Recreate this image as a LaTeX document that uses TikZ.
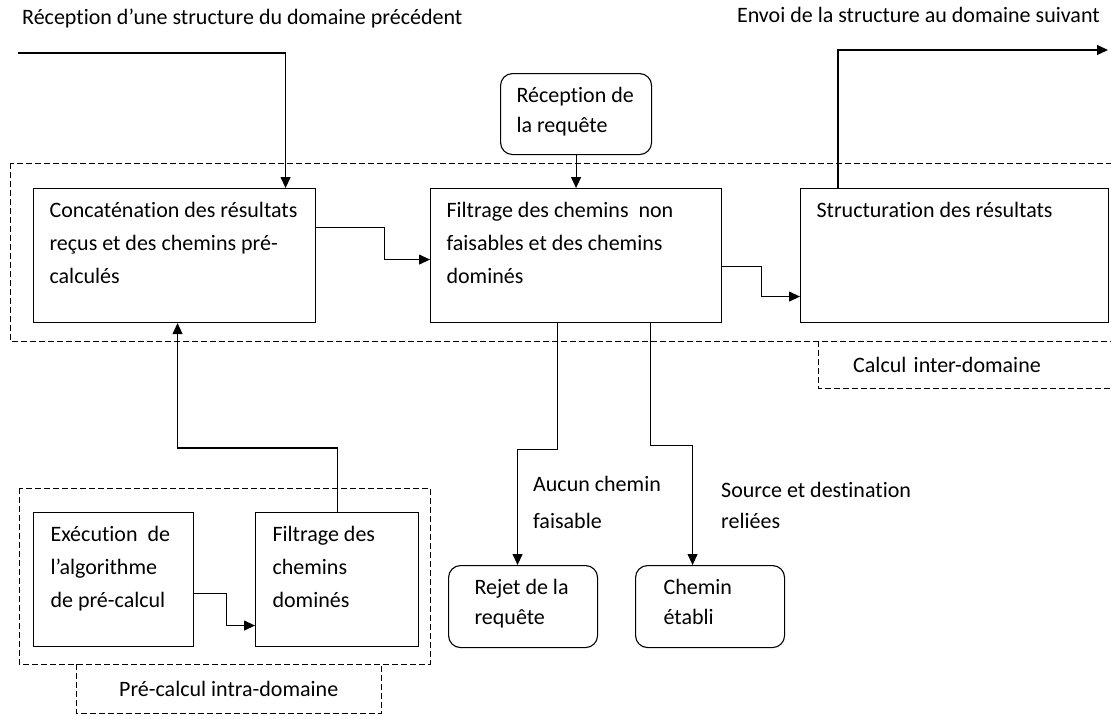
\documentclass[tikz,border=0pt]{standalone}
\usepackage{fontspec}
\setmainfont{Carlito}[Ligatures=NoCommon]
\usetikzlibrary{arrows.meta}
\newcommand{\boxtext}[4][16pt]{\parbox[c][#3][t]{#2}{\raggedright\leftskip=#1\rule{0pt}{29pt}#4}}
\begin{document}
\begin{tikzpicture}[x=1pt,y=-1pt]
\useasboundingbox (0,0) rectangle (1111,715);
\clip (0,0) rectangle (1111,715);

      \begin{scope}[every node/.style={draw,line width=1.1pt,inner sep=0pt,anchor=north west,font=\fontsize{22}{33}\selectfont}]
        \node (concat)   at (33,188)  {\boxtext{282pt}{134pt}{Concaténation des résultats\\reçus et des chemins pré-\\calculés}};
        \node (filtrage) at (430,188) {\boxtext{291pt}{134pt}{Filtrage des chemins\ \ non\\faisables et des chemins\\dominés}};
        \node (struct)   at (800,188) {\boxtext{308pt}{134pt}{Structuration des résultats}};
        \node (exec)     at (33,512)  {\boxtext[17pt]{160pt}{134pt}{Exécution\ \ de\\l’algorithme\\de pré-calcul}};
        \node (filtdom)  at (255,512) {\boxtext[17pt]{163pt}{134pt}{Filtrage des\\chemins\\dominés}};
      \end{scope}

      \begin{scope}[every node/.style={draw,line width=1.1pt,rounded corners=12pt,inner sep=0pt,anchor=north west,font=\fontsize{22}{30}\selectfont}]
        \node (recep)  at (500,73)  {\boxtext{151pt}{81pt}{Réception de\\la requête}};
        \node (rejet)  at (448,565) {\boxtext[26pt]{149pt}{82pt}{Rejet de la\\requête}};
        \node (etabli) at (635,565) {\boxtext[28pt]{149pt}{82pt}{Chemin\\établi}};
      \end{scope}

      \begin{scope}[every node/.style={inner sep=0pt,font=\fontsize{22}{33}\selectfont}]
        \node[anchor=base west] (prevtxt) at (22,24)   {Réception d’une structure du domaine précédent};
        \node[anchor=base east] (nexttxt) at (1100,22) {Envoi de la structure au domaine suivant};
        \node[anchor=north west,align=left,font=\fontsize{22}{37}\selectfont] (nonetxt) at (533,476) {Aucun chemin\\faisable};
        \node[anchor=north west,align=left,font=\fontsize{22}{31}\selectfont] (linktxt) at (721,482) {Source et destination\\reliées};
      \end{scope}

      \begin{scope}[frame/.style={dash pattern=on 6pt off 3pt,line width=1pt},
                    every node/.style={anchor=north west,font=\fontsize{22}{33}\selectfont}]
        \draw[frame] (10,163) rectangle (1130,341);
        \draw[frame] (19,488) rectangle (430,664);
        \node[minimum height=47pt,inner xsep=35pt,text width=260pt,align=left] (intertag) at (818,341) {Calcul inter-domaine};
        \node[minimum height=49pt,minimum width=305pt] (pretag) at (76,664) {Pré-calcul intra-domaine};
        \draw[frame] (intertag.north west) |- (intertag.south east) -- (intertag.north east);
        \draw[frame] (pretag.north west) |- (pretag.south east) -- (pretag.north east);
      \end{scope}

      \begin{scope}[line width=1.1pt,-{Triangle[length=11pt,width=10pt]}]
        \coordinate (in)  at (18,53);
        \coordinate (out) at (1108,50);
        \draw (in) -| ([xshift=111pt]concat.north);
        \draw ([xshift=38pt]struct.north west) |- (out);
        \draw (recep) -- (filtrage);
        \draw ([yshift=28pt]concat.east) -- ++(68,0) |- ([yshift=-4pt]filtrage.west);
        \draw ([yshift=-11pt]filtrage.east) -- ++(39,0) |- ([yshift=-41pt]struct.west);
        \draw ([xshift=-18.5pt]filtrage.south) -- ++(0,126) -| ([xshift=-5.5pt]rejet.north);
        \draw ([xshift=74.5pt]filtrage.south) -- ++(0,122) -| ([xshift=-17.5pt]etabli.north);
        \draw (filtdom.north) -- ++(0,-64) -| ([xshift=3pt]concat.south);
        \draw ([yshift=-14pt]exec.east) -- ++(32,0) |- ([yshift=-46pt]filtdom.west);
      \end{scope}

\end{tikzpicture}
\end{document}
